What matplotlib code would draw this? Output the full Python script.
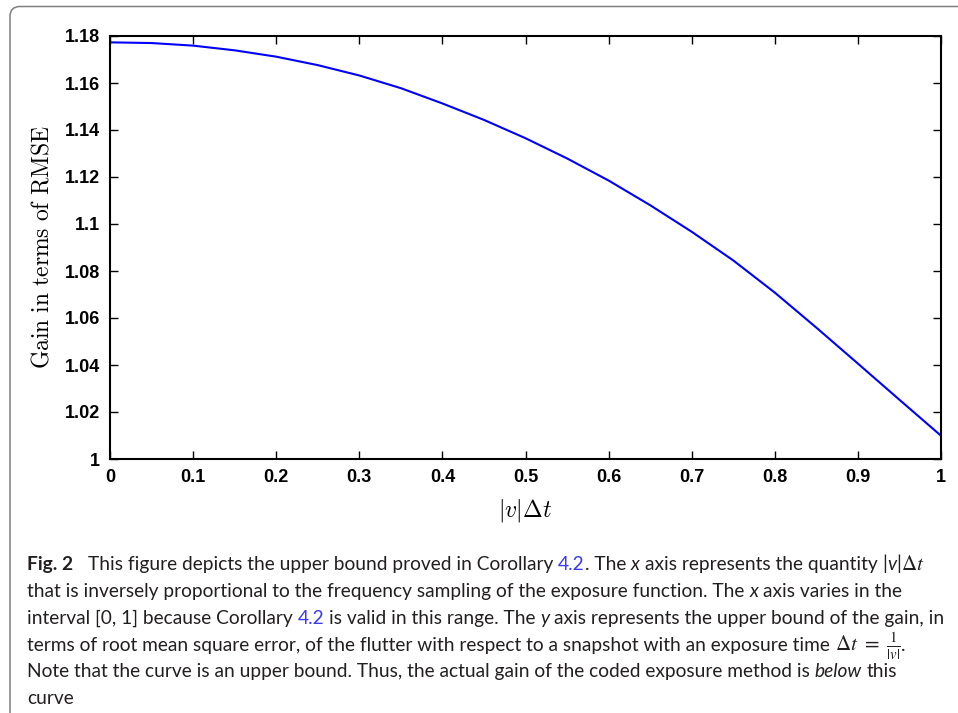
import numpy as np
import matplotlib
matplotlib.use("Agg")
import matplotlib.pyplot as plt
from matplotlib.patches import FancyBboxPatch
from matplotlib.transforms import IdentityTransform
from matplotlib.ticker import FuncFormatter

# ---- data ----
v_dt = [0.0, 0.05, 0.1, 0.15, 0.2, 0.25, 0.3, 0.35, 0.4, 0.45, 0.5,
        0.55, 0.6, 0.65, 0.7, 0.75, 0.8, 0.85, 0.9, 0.95, 1.0]
gain = [1.1773, 1.1770, 1.1759, 1.1739, 1.1712, 1.1676, 1.1632, 1.1578,
        1.1513, 1.1443, 1.1365, 1.1279, 1.1185, 1.1080, 1.0967, 1.0845,
        1.0708, 1.0559, 1.0406, 1.0252, 1.0099]
x_ticks = [0, 0.1, 0.2, 0.3, 0.4, 0.5, 0.6, 0.7, 0.8, 0.9, 1]
y_ticks = [1, 1.02, 1.04, 1.06, 1.08, 1.1, 1.12, 1.14, 1.16, 1.18]

W, H = 958, 713
fig = plt.figure(figsize=(W / 100, H / 100), dpi=100)

# rounded frame around figure + caption (runs off right/bottom edges)
frame = FancyBboxPatch((10, -30), 1000, H - 6.5 + 30,
                       boxstyle="round,pad=0,rounding_size=10",
                       transform=IdentityTransform(), facecolor="none",
                       edgecolor="#808080", linewidth=1.1)
fig.patches.append(frame)

# ---- plot ----
ax = fig.add_axes([110 / W, 1 - 459 / H, 831 / W, 423 / H])
ax.plot(v_dt, gain, color="#0000ff", linewidth=1.5)
ax.set_xlim(0, 1)
ax.set_ylim(1, 1.18)
ax.set_xticks(x_ticks)
ax.set_yticks(y_ticks)
fmt = FuncFormatter(lambda v, p: f"{v:g}")
ax.xaxis.set_major_formatter(fmt)
ax.yaxis.set_major_formatter(fmt)
ax.tick_params(direction="in", length=6, width=1, top=True, right=True,
               labelsize=13, pad=7)
for lab in ax.get_xticklabels() + ax.get_yticklabels():
    lab.set_fontfamily("Liberation Sans")
    lab.set_fontweight("bold")
for s in ax.spines.values():
    s.set_linewidth(1.5)

ax.set_ylabel(r"$\mathrm{Gain\ in\ terms\ of\ RMSE}$", fontsize=17,
              math_fontfamily="cm", labelpad=8)
ax.set_xlabel(r"$|v|\Delta t$", fontsize=17, math_fontfamily="cm", labelpad=8)

# ---- caption, drawn segment by segment ----
cap_font = "Lato"
cap_color = "#231f20"
link = "#3b3bf0"
renderer = fig.canvas.get_renderer()


def seg_width(s, size, **kw):
    t = fig.text(0, 0, s, fontsize=size, family=cap_font,
                 transform=IdentityTransform(), **kw)
    w = t.get_window_extent(renderer).width
    t.remove()
    return w


# fit font size so that line 3 has the reference width
probe = "interval [0, 1] because Corollary 4.2 is valid in this range. The y axis represents the upper bound of the gain, in"
size = 10 * 919 / seg_width(probe, 10)
space = seg_width("a a", size) - seg_width("aa", size)

N = {}
B = {"fontweight": "bold"}
I = {"style": "italic"}
L = {"color": link}
M = {"math_fontfamily": "stix"}

lines = [
    [("Fig. 2", B), ("   ", None), ("This figure depicts the upper bound proved in Corollary", N),
     (" ", None), ("4.2", L), (". The", N), (" ", None), ("x", I), (" ", None),
     ("axis represents the quantity", N), (" ", None), ("|", N), ("v", I), ("|", N),
     (r"$\Delta t$", M)],
    [("that is inversely proportional to the frequency sampling of the exposure function. The", N),
     (" ", None), ("x", I), (" ", None), ("axis varies in the", N)],
    [("interval [0, 1] because Corollary", N), (" ", None), ("4.2", L),
     (" ", None), ("is valid in this range. The", N), (" ", None), ("y", I), (" ", None),
     ("axis represents the upper bound of the gain, in", N)],
    [("terms of root mean square error, of the flutter with respect to a snapshot with an exposure time", N),
     (" ", None), (r"$\Delta t\ =\ \frac{1}{|v|}$", M), (".", N)],
    [("Note that the curve is an upper bound. Thus, the actual gain of the coded exposure method is", N),
     (" ", None), ("below", I), (" ", None), ("this", N)],
    [("curve", N)],
]
baselines = [570, 597, 624, 651, 677, 704]

for segs, yb in zip(lines, baselines):
    x = 27
    for s, kw in segs:
        if kw is None:
            x += space * len(s)
            continue
        kw = dict(kw)
        color = kw.pop("color", cap_color)
        fs = size * 1.1 if s.startswith("$") else size
        t = fig.text(x, H - yb, s, fontsize=fs, family=cap_font, color=color,
                     va="baseline", ha="left", transform=IdentityTransform(), **kw)
        x += t.get_window_extent(renderer).width

fig.savefig("out.png", dpi=100)
